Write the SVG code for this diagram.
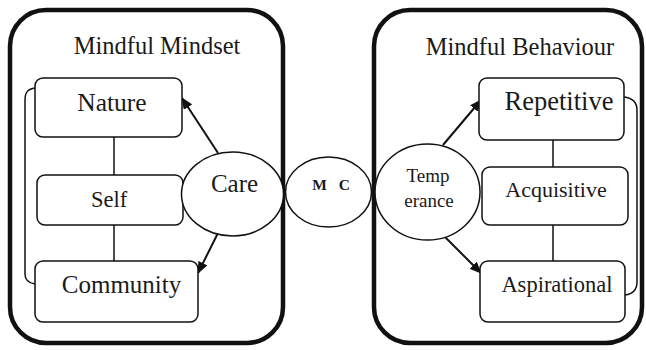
<svg xmlns="http://www.w3.org/2000/svg" width="646" height="350" viewBox="0 0 646 350">
  <defs>
    <style>
      .frame { fill: none; stroke: #111; stroke-width: 4.5; }
      .box { fill: #fff; stroke: #111; stroke-width: 1.5; }
      .oval { fill: #fff; stroke: #111; stroke-width: 1.5; }
      .link { fill: none; stroke: #111; stroke-width: 1.5; }
      .arrow { fill: none; stroke: #111; stroke-width: 2; marker-end: url(#head); }
      text { font-family: "Liberation Serif", "Times New Roman", serif; fill: #1a1a1a; text-anchor: middle; }
      .title { font-size: 24.5px; }
      .lbl { font-size: 25px; }
    </style>
    <marker id="head" viewBox="0 0 12 10" refX="11" refY="5" markerWidth="12" markerHeight="10" markerUnits="userSpaceOnUse" orient="auto">
      <path d="M0,0 L12,5 L0,10 z" fill="#111"/>
    </marker>
  </defs>

  <!-- outer panels -->
  <g id="mindset-panel">
    <rect class="frame" x="10" y="10" width="273" height="333" rx="36"/>
    <text class="title" x="157" y="54">Mindful Mindset</text>
  </g>
  <g id="behaviour-panel">
    <rect class="frame" x="374" y="10" width="268" height="333" rx="36"/>
    <text class="title" x="520" y="55">Mindful Behaviour</text>
  </g>

  <!-- connectors -->
  <g id="connectors">
    <path class="link" d="M35,88 C28,89 25,92 25,100 L25,274 C25,280 28,283 35,284"/>
    <path class="link" d="M114,137 L114,175"/>
    <path class="link" d="M114,225 L114,261"/>
    <path class="link" d="M624,97 C632,98 637,102 637,110 L637,282 C637,290 632,294 625,295"/>
    <path class="link" d="M553,140 L553,167"/>
    <path class="link" d="M553,225 L553,261"/>
    <path class="arrow" d="M218,153 L182,98"/>
    <path class="arrow" d="M218,233 L198,273"/>
    <path class="arrow" d="M443,145 L481,100"/>
    <path class="arrow" d="M444,236 L481,273"/>
  </g>

  <!-- left nodes -->
  <g id="nature">
    <rect class="box" x="35" y="78" width="147" height="59" rx="8"/>
    <text class="lbl" x="112" y="111" style="font-size:25.5px">Nature</text>
  </g>
  <g id="self">
    <rect class="box" x="37" y="175" width="146" height="50" rx="8"/>
    <text class="lbl" x="109" y="207" style="font-size:22.5px">Self</text>
  </g>
  <g id="community">
    <rect class="box" x="35" y="261" width="163" height="61" rx="8"/>
    <text class="lbl" x="121.5" y="293">Community</text>
  </g>
  <g id="care">
    <ellipse class="oval" cx="232.5" cy="194" rx="51" ry="42"/>
    <text class="lbl" x="234.5" y="192">Care</text>
  </g>

  <!-- centre link -->
  <g id="mc">
    <ellipse class="oval" cx="328.5" cy="192" rx="43" ry="35"/>
    <text x="331" y="190" style="font-size:15.5px;font-weight:bold;word-spacing:8px">M C</text>
  </g>

  <!-- right nodes -->
  <g id="temperance">
    <ellipse class="oval" cx="427.5" cy="192" rx="52.5" ry="48"/>
    <text x="428" y="182" style="font-size:19px">Temp</text>
    <text x="429" y="207" style="font-size:19px">erance</text>
  </g>
  <g id="repetitive">
    <rect class="box" x="479" y="78" width="145" height="62" rx="8"/>
    <text class="lbl" x="559" y="110" style="font-size:26.5px">Repetitive</text>
  </g>
  <g id="acquisitive">
    <rect class="box" x="482" y="167" width="146" height="58" rx="8"/>
    <text class="lbl" x="556" y="197" style="font-size:22px">Acquisitive</text>
  </g>
  <g id="aspirational">
    <rect class="box" x="480" y="261" width="145" height="61" rx="8"/>
    <text class="lbl" x="557" y="292" style="font-size:22.5px">Aspirational</text>
  </g>
</svg>
